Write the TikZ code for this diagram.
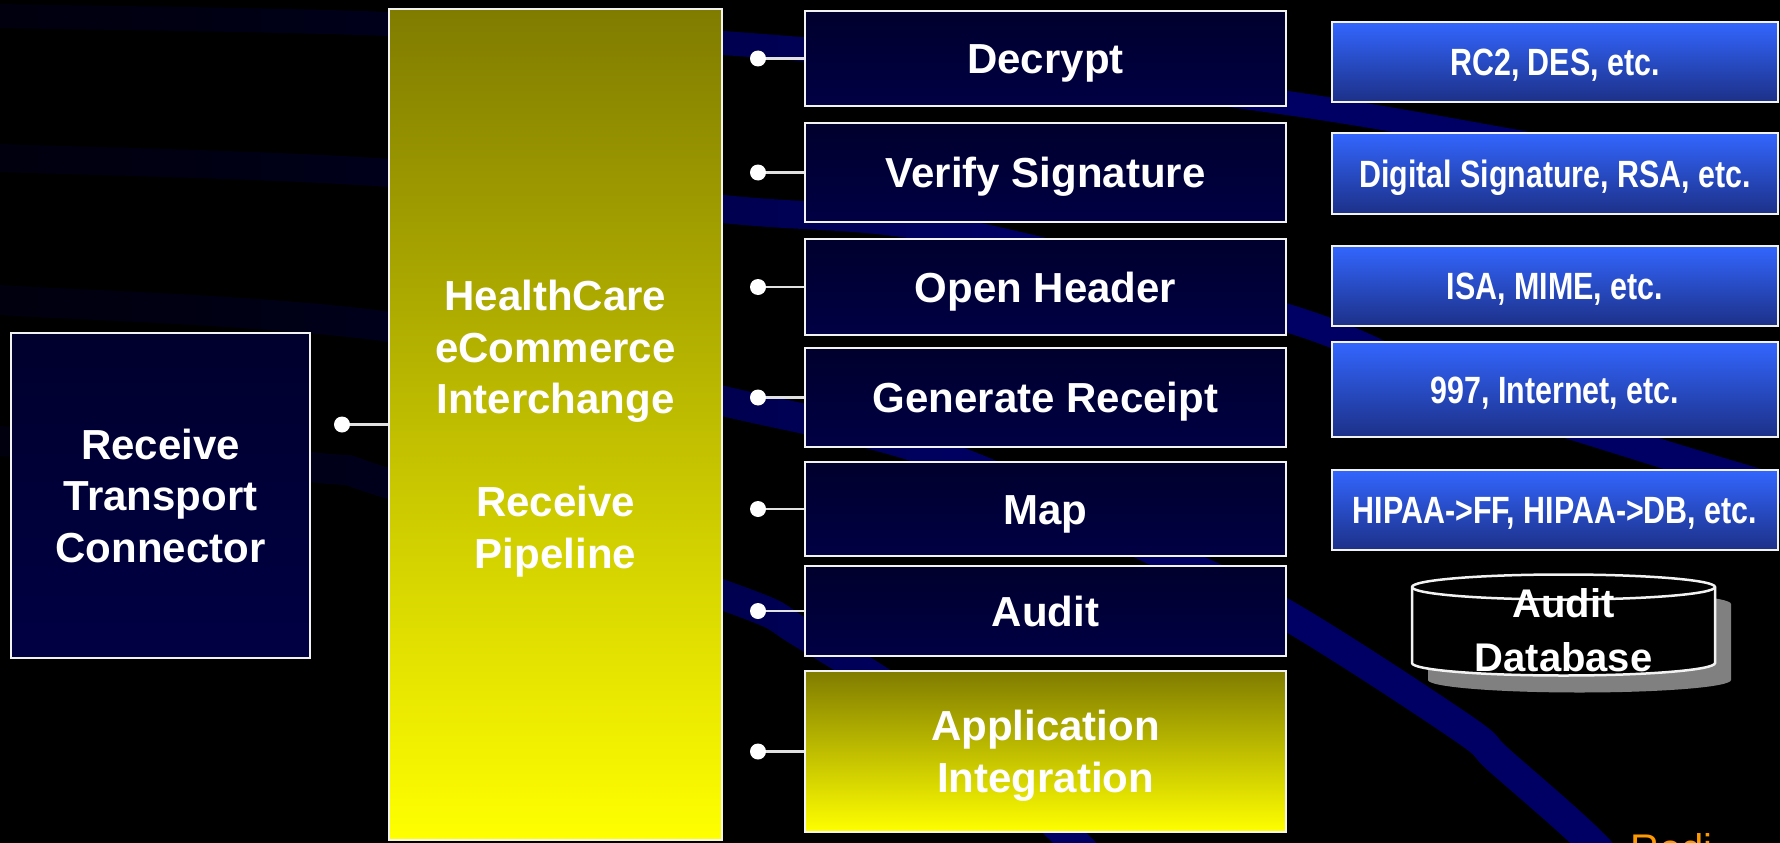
\documentclass[tikz,border=0pt]{standalone}
\usepackage{fontspec}
\setmainfont{Liberation Sans}
\newfontfamily\narrowfont[FakeStretch=0.8]{Liberation Sans}
\usetikzlibrary{fadings}
\definecolor{band}{RGB}{0,0,100}
\definecolor{navytop}{RGB}{0,0,45}
\definecolor{navybot}{RGB}{0,0,68}
\definecolor{olivetop}{RGB}{128,124,0}
\definecolor{olivemid}{RGB}{203,200,0}
\definecolor{yellowbot}{RGB}{255,255,0}
\definecolor{bluetop}{RGB}{51,102,255}
\definecolor{bluemid}{RGB}{44,88,222}
\definecolor{bluebot}{RGB}{28,48,135}
\definecolor{edgecol}{RGB}{242,242,242}
\definecolor{wirecol}{RGB}{225,225,225}
\definecolor{shadowgray}{RGB}{128,128,128}
\definecolor{orangetxt}{RGB}{255,153,0}
\pgfdeclarehorizontalshading{bandfadeshade}{100bp}{color(0bp)=(pgftransparent!0); color(25bp)=(pgftransparent!0); color(35bp)=(pgftransparent!5); color(44bp)=(pgftransparent!15); color(60bp)=(pgftransparent!75); color(75bp)=(pgftransparent!100); color(100bp)=(pgftransparent!100)}
\pgfdeclarefading{bandfade}{\pgfuseshading{bandfadeshade}}
\newcommand\zerodepth[1]{\raisebox{0pt}[\height][0pt]{#1}}
\tikzset{
  box/.style={draw=edgecol, line width=2.8pt, rectangle, inner sep=0pt, text=white,
    font=\bfseries\fontsize{42}{51.5}\selectfont, align=center},
  darkbox/.style={box, top color=navytop, bottom color=navybot},
  yellowbox/.style={box, top color=olivetop, middle color=olivemid, bottom color=yellowbot},
  bluebox/.style={box, top color=bluetop, middle color=bluemid, bottom color=bluebot,
    font=\narrowfont\bfseries\fontsize{38}{46}\selectfont, text height=27.2pt, text depth=0pt},
  onerow/.style={text height=30.1pt, text depth=0pt},
  bandline/.style={draw=band, line width=28pt, line cap=butt},
  dotnode/.style={circle, fill=white, minimum size=16pt, inner sep=0pt},
  wireline/.style={draw=wirecol, line width=2.5pt},
  dbtext/.style={text=white, font=\bfseries\fontsize{40}{54}\selectfont, align=center, inner sep=0pt},
  cyl/.style={line width=2.5pt, draw=edgecol},
}
\begin{document}
\begin{tikzpicture}[x=1pt, y=-1pt]
\useasboundingbox (0,0) rectangle (1780,843);
\fill[black] (0,0) rectangle (1780,843);
% background swooshes
\draw[bandline, line width=24pt] plot[smooth, tension=0.6] coordinates {(-20,15) (0,16) (390,24) (723,43) (1000,68) (1287,103) (1534,145) (1800,195)};
\draw[bandline] plot[smooth, tension=0.6] coordinates {(-20,157) (0,158) (390,173) (723,209) (950,231) (1287,318) (1450,385) (1650,450) (1800,495)};
\draw[bandline, line width=30pt] plot[smooth, tension=0.6] coordinates {(-20,299) (0,300) (390,327) (723,401) (940,455) (1175,560) (1290,617) (1461,727) (1500,761) (1592,843) (1640,900)};
\draw[bandline, line width=30pt] plot[smooth, tension=0.6] coordinates {(-20,439) (0,441) (310,467) (390,484) (723,595) (805,635) (950,730) (1075,843) (1110,880)};
\fill[black, fill opacity=0.85, path fading=bandfade] (0,-30) rectangle (1000,900);
% main boxes
\node[darkbox, minimum width=299pt, minimum height=325pt] (recv) at (160.5,495.5) {Receive\\Transport\\Connector};
\node[yellowbox, minimum width=333pt, minimum height=831pt] (pipe) at (555.5,424.5) {HealthCare\\eCommerce\\Interchange\\[51.5pt]Receive\\\zerodepth{Pipeline}};
\node[darkbox, onerow, minimum width=481pt, minimum height=95pt] (decrypt) at (1045.5,58.5) {Decrypt};
\node[darkbox, onerow, minimum width=481pt, minimum height=99pt] (verify) at (1045.5,172.5) {Verify Signature};
\node[darkbox, onerow, minimum width=481pt, minimum height=96pt] (openh) at (1045.5,287) {Open Header};
\node[darkbox, onerow, minimum width=481pt, minimum height=99pt] (genr) at (1045.5,397.5) {Generate Receipt};
\node[darkbox, onerow, minimum width=481pt, minimum height=94pt] (map) at (1045.5,509) {Map};
\node[darkbox, onerow, minimum width=481pt, minimum height=90pt] (audit) at (1045.5,611) {Audit};
\node[yellowbox, minimum width=481pt, minimum height=161pt] (appint) at (1045.5,751.5) {Application\\\zerodepth{Integration}};
% right column
\node[bluebox, minimum width=446pt, minimum height=80pt] (rc2) at (1555,62) {RC2, DES, etc.};
\node[bluebox, minimum width=446pt, minimum height=81pt] (dig) at (1555,173.5) {Digital Signature, RSA, etc.};
\node[bluebox, minimum width=446pt, minimum height=80pt] (isa) at (1555,286) {ISA, MIME, etc.};
\node[bluebox, minimum width=446pt, minimum height=95pt] (rcpt) at (1555,389.5) {997, Internet, etc.};
\node[bluebox, minimum width=446pt, minimum height=80pt] (hipaa) at (1555,510) {HIPAA->FF, HIPAA->DB, etc.};
% connectors with dots
\node[dotnode] (rdot) at (342,424.5) {};
\node[dotnode] (d1) at (758,58.5) {};
\node[dotnode] (d2) at (758,172.5) {};
\node[dotnode] (d3) at (758,287) {};
\node[dotnode] (d4) at (758,397.5) {};
\node[dotnode] (d5) at (758,509) {};
\node[dotnode] (d6) at (758,611) {};
\node[dotnode] (d7) at (758,751.5) {};
\draw[wireline] (rdot) -- (pipe.west);
\draw[wireline] (d1) -- (decrypt.west);
\draw[wireline] (d2) -- (verify.west);
\draw[wireline] (d3) -- (openh.west);
\draw[wireline] (d4) -- (genr.west);
\draw[wireline] (d5) -- (map.west);
\draw[wireline] (d6) -- (audit.west);
\draw[wireline] (d7) -- (appint.west);
% audit database cylinder
\fill[shadowgray, shift={(16,17)}] (1412,587) -- (1412,663) arc[start angle=180, end angle=0, x radius=151.5, y radius=12.5] -- (1715,587) arc[start angle=0, end angle=-180, x radius=151.5, y radius=12.5] -- cycle;
\filldraw[cyl, fill=black] (1412,587) -- (1412,663) arc[start angle=180, end angle=0, x radius=151.5, y radius=12.5] -- (1715,587) arc[start angle=0, end angle=-180, x radius=151.5, y radius=12.5] -- cycle;
\draw[cyl] (1412,587) arc[start angle=180, end angle=0, x radius=151.5, y radius=12.5];
\node[dbtext] (db) at (1563.5,630.5) {Audit\\Database};
% cut-off caption
\node[anchor=base west, inner sep=0pt, text=orangetxt, font=\fontsize{40}{48}\selectfont] (caption) at (1630,862) {Redi};
\end{tikzpicture}
\end{document}
